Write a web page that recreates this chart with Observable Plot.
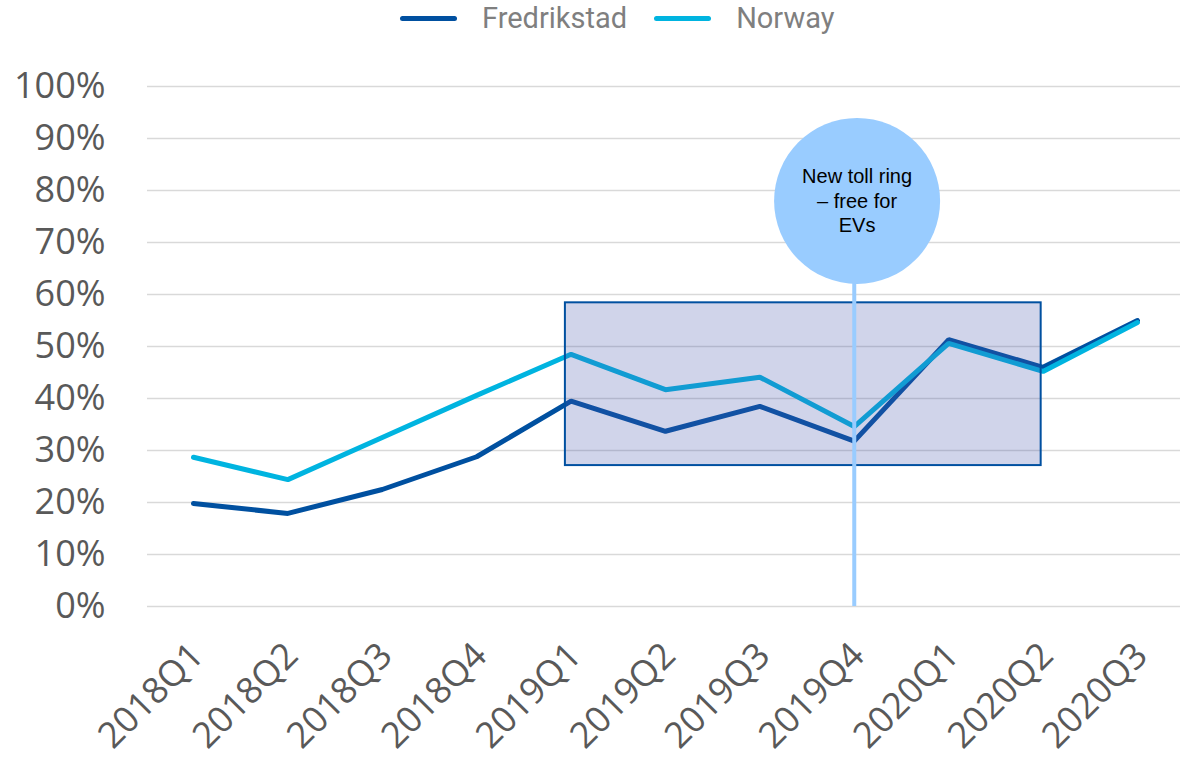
<!DOCTYPE html>
<html>
<head>
<meta charset="utf-8">
<script src="https://cdn.jsdelivr.net/npm/d3@7"></script>
<script src="https://cdn.jsdelivr.net/npm/@observablehq/plot@0.6"></script>
<style>
  html, body { margin: 0; padding: 0; background: #fff; }
  #wrap { position: relative; width: 1180px; height: 759px; }
  #legend { position: absolute; left: 400px; top: 0; height: 36px; display: flex; align-items: center;
            font-family: Roboto, sans-serif; font-size: 29px; color: #7f7f7f; }
  .item { display: flex; align-items: center; margin-right: 27px; }
  .sw { width: 57px; height: 5px; border-radius: 3px; margin-right: 25px; }
</style>
</head>
<body>
<div id="wrap">
  <div id="legend"></div>
  <div id="chart"></div>
</div>
<script>
const quarters = ["2018Q1","2018Q2","2018Q3","2018Q4","2019Q1","2019Q2","2019Q3","2019Q4","2020Q1","2020Q2","2020Q3"];
const fredrikstad = [19.8, 17.9, 22.5, 28.8, 39.5, 33.7, 38.5, 31.8, 51.3, 46.0, 55.0];
const norway      = [28.7, 24.4, 32.5, 40.6, 48.5, 41.7, 44.1, 34.6, 50.6, 45.2, 54.6];
const seriesNames = ["Fredrikstad", "Norway"];
const seriesColors = ["#0050A0", "#00B4E0"];
const yTicks = [0, 10, 20, 30, 40, 50, 60, 70, 80, 90, 100];
// annotation: highlighted period (quarter index range, % range)
const highlight = [{x1: 3.94, x2: 8.98, y1: 27.1, y2: 58.4}];
const eventQuarter = [{x: 7, y1: 0, y2: 78}];
const bubble = [{x: 7.03, y: 78, label: "New toll ring\n– free for\nEVs", ty: 78.2}];

const rows = [];
quarters.forEach((q, i) => {
  rows.push({i, q, v: fredrikstad[i], s: seriesNames[0]});
  rows.push({i, q, v: norway[i], s: seriesNames[1]});
});

// legend
const leg = document.getElementById("legend");
seriesNames.forEach((n, k) => {
  const it = document.createElement("div");
  it.className = "item";
  it.innerHTML = `<span class="sw" style="background:${seriesColors[k]}"></span><span>${n}</span>`;
  leg.appendChild(it);
});

const chart = Plot.plot({
  width: 1180,
  height: 759,
  marginTop: 86,
  marginBottom: 153,
  marginLeft: 147,
  marginRight: 0,
  style: {fontFamily: "'Open Sans', sans-serif", background: "#fff", overflow: "visible"},
  x: {type: "linear", domain: [-0.487, 10.456]},
  y: {domain: [0, 100]},
  color: {domain: seriesNames, range: seriesColors},
  marks: [
    Plot.ruleY(yTicks, {stroke: "#d9d9d9", strokeWidth: 1.6}),
    Plot.axisY({ticks: yTicks, tickSize: 0, tickPadding: 42, tickFormat: d => d + "%",
                fontSize: 36, fill: "#595959", label: null}),
    Plot.axisX({ticks: d3.range(quarters.length), tickFormat: i => quarters[i], tickSize: 0,
                tickRotate: -45, tickPadding: 43, dx: 4, fontSize: 36, fill: "#595959", label: null}),
    Plot.line(rows, {x: "i", y: "v", z: "s", stroke: "s", strokeWidth: 5,
                     strokeLinejoin: "miter", strokeLinecap: "round"}),
    Plot.rect(highlight, {x1: "x1", x2: "x2", y1: "y1", y2: "y2", fill: "#4454AA", fillOpacity: 0.25,
                          stroke: "#0050A0", strokeWidth: 2}),
    Plot.ruleX(eventQuarter, {x: "x", y1: "y1", y2: "y2", stroke: "#99CCFF", strokeWidth: 4}),
    Plot.dot(bubble, {x: "x", y: "y", r: 83, fill: "#99CCFF", stroke: "none"}),
    Plot.text(bubble, {x: "x", y: "ty", text: "label", fontSize: 20, lineHeight: 1.22,
                       fontFamily: "'Liberation Sans', Arial, sans-serif", fill: "#000"})
  ]
});
document.getElementById("chart").appendChild(chart);
</script>
</body>
</html>
